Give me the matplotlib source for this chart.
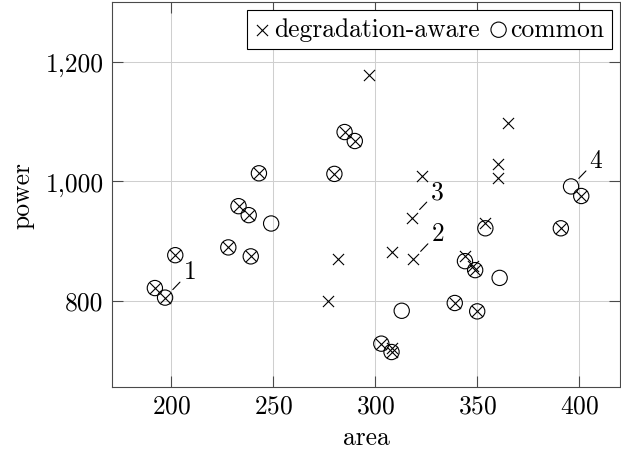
import matplotlib
matplotlib.use("Agg")
import matplotlib.pyplot as plt
from matplotlib.ticker import FuncFormatter

plt.rcParams['font.family'] = ['cmr10', 'DejaVu Serif']
plt.rcParams['axes.formatter.use_mathtext'] = True
plt.rcParams['mathtext.fontset'] = 'cm'

# degradation-aware results (crosses)
deg_area = [192, 197, 202, 228, 233, 238, 239, 243, 280, 285, 290, 339, 350, 349, 391, 401,
            303, 308, 297, 282, 277, 308, 318.5, 318, 323, 360, 360, 365, 354, 344, 348, 308]
deg_power = [821, 805, 876, 889, 958, 943, 874, 1013, 1012, 1082, 1067, 796, 782, 851, 921, 975,
             728, 714, 1177, 870, 800, 882, 869, 939, 1009, 1029, 1005, 1097, 930, 875, 858, 720]

# common results (circles)
com_area = [192, 197, 202, 228, 233, 238, 239, 243, 280, 285, 290, 339, 350, 349, 391, 401,
            303, 308, 249, 313, 396, 354, 344, 361]
com_power = [821, 805, 876, 889, 958, 943, 874, 1013, 1012, 1082, 1067, 796, 782, 851, 921, 975,
             728, 714, 929, 783, 991, 921, 866, 838]

# annotated points
ann_labels = ['1', '2', '3', '4']
ann_area = [197, 318.5, 318, 396]
ann_power = [805, 869, 939, 991]

x_ticks = [200, 250, 300, 350, 400]
y_ticks = [800, 1000, 1200]

fs = 18.4
fig = plt.figure(figsize=(6.21, 4.56), dpi=100)
ax = fig.add_axes([0.1804, 0.1485, 0.818, 0.8455])

ax.scatter(deg_area, deg_power, marker='x', s=8.0**2, c='black', linewidths=0.8,
           zorder=3, label='degradation-aware')
ax.scatter(com_area, com_power, marker='o', s=11.0**2, facecolors='none', edgecolors='black',
           linewidths=0.8, zorder=3, label='common')

for t, xa, ya in zip(ann_labels, ann_area, ann_power):
    ax.annotate(t, xy=(xa, ya), xytext=(25, 26), textcoords='offset pixels',
                ha='center', va='center', fontsize=fs,
                arrowprops=dict(arrowstyle='-', lw=0.8, color='black', shrinkA=1, shrinkB=8))

ax.set_xlim(171, 420)
ax.set_ylim(655, 1300)
ax.set_xticks(x_ticks)
ax.set_yticks(y_ticks)
ax.yaxis.set_major_formatter(FuncFormatter(lambda v, p: f"{int(v):,}"))
ax.grid(True, color='#cfcfcf', linewidth=0.75, zorder=0)
ax.set_axisbelow(True)
for s in ax.spines.values():
    s.set_color('#4a4a4a')
    s.set_linewidth(0.8)
ax.tick_params(direction='in', length=8, width=0.8, color='#4a4a4a',
               top=True, right=True, labelsize=fs, pad=5)
ax.tick_params(axis='y', pad=6)
ax.set_xlabel('area', fontsize=fs, labelpad=5)
ax.set_ylabel('power', fontsize=fs, labelpad=8)

leg = ax.legend(loc='upper right', bbox_to_anchor=(0.984, 0.9785), ncol=2, fontsize=fs,
                frameon=True, fancybox=False, framealpha=1, edgecolor='black',
                handlelength=0.6, handletextpad=0.15, columnspacing=0.45, borderpad=0.3,
                borderaxespad=0.0, scatterpoints=1)
leg.get_frame().set_linewidth(0.8)

fig.savefig('out.png', dpi=100)
